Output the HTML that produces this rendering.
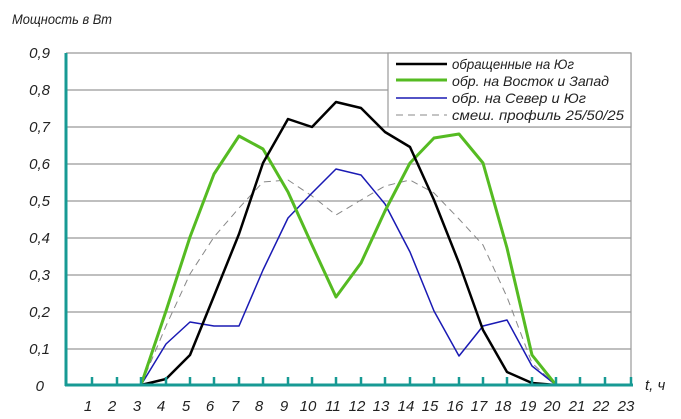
<!DOCTYPE html>
<html><head><meta charset="utf-8"><style>
html,body{margin:0;padding:0;background:#fff;}
svg{display:block;}
text{font-family:"Liberation Sans","DejaVu Sans",sans-serif;font-style:italic;fill:#222;}
</style></head><body>
<svg width="681" height="419" viewBox="0 0 681 419" xmlns="http://www.w3.org/2000/svg">
<text x="12" y="24" font-size="14" textLength="100" lengthAdjust="spacingAndGlyphs">Мощность в Вт</text>
<g stroke="#999" stroke-width="1.2">
<line x1="66" y1="53" x2="631" y2="53"/><line x1="66" y1="90" x2="631" y2="90"/>
<line x1="66" y1="127" x2="631" y2="127"/><line x1="66" y1="164" x2="631" y2="164"/>
<line x1="66" y1="201" x2="631" y2="201"/><line x1="66" y1="238" x2="631" y2="238"/>
<line x1="66" y1="275" x2="631" y2="275"/><line x1="66" y1="312" x2="631" y2="312"/>
<line x1="66" y1="349" x2="631" y2="349"/><line x1="631" y1="53" x2="631" y2="385"/>
</g>
<g font-size="15" text-anchor="end">
<text x="50" y="58">0,9</text><text x="50" y="95">0,8</text><text x="50" y="132">0,7</text>
<text x="50" y="169">0,6</text><text x="50" y="206">0,5</text><text x="50" y="243">0,4</text>
<text x="50" y="280">0,3</text><text x="50" y="317">0,2</text><text x="50" y="354">0,1</text>
<text x="44" y="391">0</text>
</g>
<rect x="388" y="53" width="243" height="74" fill="#fff" stroke="#999" stroke-width="1.2"/>
<g stroke-linejoin="round" fill="none">
<polyline stroke="#888" stroke-width="1" stroke-dasharray="7,5" points="141,385 166,326 190,274 214,237 239,208 263,182 288,180 312,196 336,215 361,200 385,186 410,180 434,193 459,219 483,245 507,297 532,363 556,385"/>
<polyline stroke="#1a1ab4" stroke-width="1.5" points="141,385 166,344 190,322 214,326 239,326 263,270 288,218 312,193 336,169 361,175 385,204 410,252 434,311 459,356 483,326 507,320 532,366 556,385"/>
<polyline stroke="#55bb22" stroke-width="3" points="141,385 166,311 190,237 214,174 239,136 263,149 288,192 312,245 336,297 361,263 385,211 410,163 434,138 459,134 483,163 507,248 532,355 556,385"/>
<polyline stroke="#000" stroke-width="2.5" points="141,385 166,379 190,355 214,296 239,234 263,163 288,119 312,127 336,102 361,108 385,132 410,147 434,200 459,263 483,330 507,372 532,383 556,385"/>
<line x1="396" y1="64" x2="447" y2="64" stroke="#000" stroke-width="2.5"/>
<line x1="396" y1="80" x2="447" y2="80" stroke="#55bb22" stroke-width="3"/>
<line x1="396" y1="98" x2="447" y2="98" stroke="#1a1ab4" stroke-width="1.5"/>
<line x1="396" y1="115" x2="447" y2="115" stroke="#888" stroke-width="1" stroke-dasharray="7,5"/>
</g>
<g font-size="14">
<text x="452" y="69" textLength="122" lengthAdjust="spacingAndGlyphs">обращенные на Юг</text>
<text x="452" y="86" textLength="157" lengthAdjust="spacingAndGlyphs">обр. на Восток и Запад</text>
<text x="452" y="103" textLength="134" lengthAdjust="spacingAndGlyphs">обр. на Север и Юг</text>
<text x="452" y="120" textLength="172" lengthAdjust="spacingAndGlyphs">смеш. профиль 25/50/25</text>
</g>
<line x1="66" y1="53" x2="66" y2="386" stroke="#179a94" stroke-width="3"/>
<line x1="65" y1="385" x2="633" y2="385" stroke="#179a94" stroke-width="3"/>
<g stroke="#179a94" stroke-width="2.5">
<line x1="92" y1="385" x2="92" y2="377"/><line x1="117" y1="385" x2="117" y2="377"/><line x1="141" y1="385" x2="141" y2="377"/>
<line x1="166" y1="385" x2="166" y2="377"/><line x1="190" y1="385" x2="190" y2="377"/><line x1="214" y1="385" x2="214" y2="377"/>
<line x1="239" y1="385" x2="239" y2="377"/><line x1="263" y1="385" x2="263" y2="377"/><line x1="288" y1="385" x2="288" y2="377"/>
<line x1="312" y1="385" x2="312" y2="377"/><line x1="336" y1="385" x2="336" y2="377"/><line x1="361" y1="385" x2="361" y2="377"/>
<line x1="385" y1="385" x2="385" y2="377"/><line x1="410" y1="385" x2="410" y2="377"/><line x1="434" y1="385" x2="434" y2="377"/>
<line x1="459" y1="385" x2="459" y2="377"/><line x1="483" y1="385" x2="483" y2="377"/><line x1="507" y1="385" x2="507" y2="377"/>
<line x1="532" y1="385" x2="532" y2="377"/><line x1="556" y1="385" x2="556" y2="377"/><line x1="580" y1="385" x2="580" y2="377"/>
<line x1="605" y1="385" x2="605" y2="377"/><line x1="631" y1="385" x2="631" y2="377"/>
</g>
<g font-size="15" text-anchor="middle">
<text x="88" y="411">1</text><text x="112" y="411">2</text><text x="137" y="411">3</text><text x="161" y="411">4</text>
<text x="186" y="411">5</text><text x="210" y="411">6</text><text x="235" y="411">7</text><text x="259" y="411">8</text>
<text x="284" y="411">9</text><text x="308" y="411">10</text><text x="333" y="411">11</text><text x="357" y="411">12</text>
<text x="381" y="411">13</text><text x="406" y="411">14</text><text x="430" y="411">15</text><text x="455" y="411">16</text>
<text x="479" y="411">17</text><text x="503" y="411">18</text><text x="528" y="411">19</text><text x="552" y="411">20</text>
<text x="577" y="411">21</text><text x="601" y="411">22</text><text x="626" y="411">23</text>
</g>
<text x="645" y="390" font-size="15">t, ч</text>
</svg>
</body></html>
